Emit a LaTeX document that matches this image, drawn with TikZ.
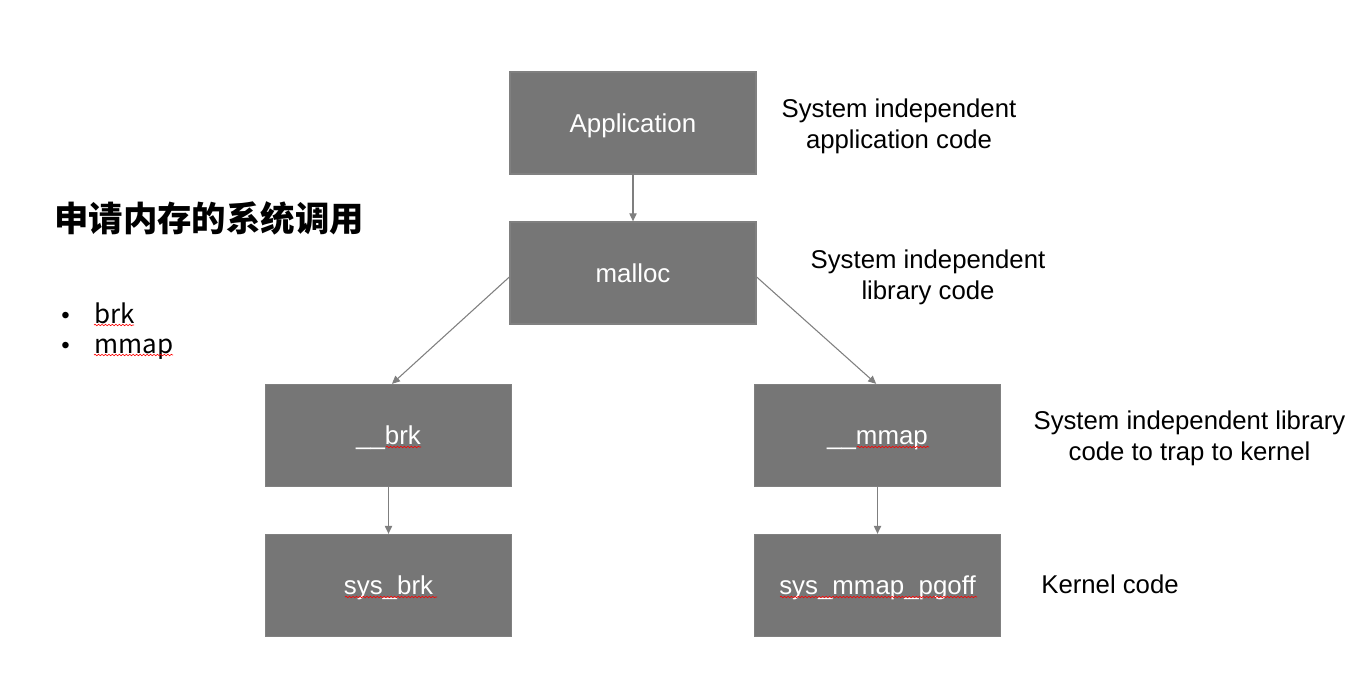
\documentclass[tikz,border=0pt]{standalone}
\usepackage{fontspec}
\setmainfont{Liberation Sans}
\newfontfamily\cjk{Noto Sans CJK SC}
\usetikzlibrary{arrows.meta,decorations.pathmorphing}
\definecolor{boxfill}{HTML}{767676}
\definecolor{boxline}{HTML}{808080}
\definecolor{arrowc}{HTML}{7F7F7F}
\tikzset{
  fnbox/.style={rectangle, fill=boxfill, draw=boxline, line width=1pt,
    minimum width=184.5pt, minimum height=76.5pt, inner sep=0pt,
    text height=13.9pt, text depth=0pt,
    text=white, font=\fontsize{19.4}{23}\selectfont},
  desc/.style={align=center, font=\fontsize{19.3}{23.3}\selectfont, inner sep=0pt},
  conn/.style={draw=arrowc, line width=0.8pt, -{Triangle[length=6pt,width=5.5pt]}},
  squig/.style={draw=red, line width=0.45pt, decorate,
    decoration={snake, amplitude=0.55pt, segment length=2.6pt}},
  bul/.style={anchor=base west, inner sep=0pt, font=\cjk\fontsize{19.5}{23}\selectfont},
  buldot/.style={anchor=base west, inner sep=0pt, font=\fontsize{18}{22}\selectfont}
}
\begin{document}
\begin{tikzpicture}[x=0.75pt, y=-0.75pt]
\useasboundingbox (0,0) rectangle (1345,686);
% boxes
\node[fnbox] (app) at (633,123) {Application};
\node[fnbox] (malloc) at (633,273) {malloc};
\node[fnbox] (brk) at (388.5,435.5) {\_\_brk};
\node[fnbox] (mmap) at (877.5,435.5) {\_\_mmap};
\node[fnbox] (sysbrk) at (388.5,585.5) {sys\_brk};
\node[fnbox] (sysmmap) at (877.5,585.5) {sys\_mmap\_pgoff};
% connectors
\draw[conn] ([yshift=-3pt]malloc.west) -- ([xshift=2.6pt]brk.north);
\draw[conn] ([yshift=-3pt]malloc.east) -- ([xshift=-1pt]mmap.north);
\draw[conn] (app.south) -- (malloc.north);
\draw[conn] (brk.south) -- (sysbrk.north);
\draw[conn] (mmap.south) -- (sysmmap.north);
% descriptions
\node[desc] (d1) at (899,126.5) {System independent\\application code};
\node[desc] (d2) at (928,277.5) {System independent\\library code};
\node[desc] (d3) at (1189.5,438.5) {System independent library\\code to trap to kernel};
\node[desc] (d4) at (1110,584) {Kernel code};
% title and bullets
\node[anchor=west, inner sep=0pt, font=\cjk\bfseries\fontsize{25.8}{30}\selectfont] (title) at (54,218) {申请内存的系统调用};
\node[buldot] (b1dot) at (61,323) {•};
\node[bul] (b1) at (94,323) {brk};
\node[buldot] (b2dot) at (61,353) {•};
\node[bul] (b2) at (94,353) {mmap};
% spell-check squiggles
\draw[squig] (94,325) -- (134,325);
\draw[squig] (94,355) -- (173,355);
\draw[squig] (386,447) -- (421,447);
\draw[squig] (345,597) -- (437,597);
\draw[squig] (857,447) -- (929,447);
\draw[squig] (780,597) -- (977,597);
\end{tikzpicture}
\end{document}
